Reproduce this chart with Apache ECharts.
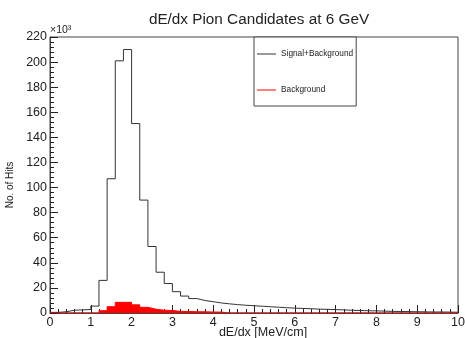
<!DOCTYPE html>
<html>
<head>
<meta charset="utf-8">
<script src="https://cdn.jsdelivr.net/npm/echarts@6/dist/echarts.min.js"></script>
<style>html,body{margin:0;padding:0;background:#fff}#c{width:465px;height:338px}</style>
</head>
<body>
<div id="c"></div>
<script>
// bin left edges (MeV/cm), bin width 0.2, plus final right edge 10
var binEdges = [0,0.2,0.4,0.6,0.8,1.0,1.2,1.4,1.6,1.8,2.0,2.2,2.4,2.6,2.8,3.0,3.2,3.4,3.6,3.8,
  4.0,4.2,4.4,4.6,4.8,5.0,5.2,5.4,5.6,5.8,6.0,6.2,6.4,6.6,6.8,7.0,7.2,7.4,7.6,7.8,
  8.0,8.2,8.4,8.6,8.8,9.0,9.2,9.4,9.6,9.8,10];
// counts in units of 10^3 hits
var signalPlusBackground = [0.5,1.0,2.2,2.5,2.8,5.5,26,107,201,210,151,90,53,32.5,23.5,17,13.5,11.5,10,9,
  8,7.3,6.7,6.2,5.8,5.4,5.0,4.6,4.2,3.9,3.6,3.4,3.1,2.9,2.7,2.5,2.2,2.0,1.8,1.7,
  1.5,1.3,1.2,1.1,1.0,0.9,0.8,0.8,0.7,0.6];
var background = [0,0,0,0,0,0,1.8,5,8.5,8.5,6.5,4.5,3,2.2,2,1.3,1.2,1.0,0.9,0.8,
  0.7,0,0,0,0,0,0,0,0,0,0,0,0,0,0,0,0,0,0,0,
  0,0,0,0,0,0,0,0,0,0];
var xTicks = [0,1,2,3,4,5,6,7,8,9,10];
var yTicks = [0,20,40,60,80,100,120,140,160,180,200,220];

function histData(vals){
  var d = [];
  for (var i = 0; i < vals.length; i++) d.push([binEdges[i], vals[i]]);
  d.push([binEdges[vals.length], vals[vals.length-1]]);
  return d;
}

var FONT = 'Liberation Sans';
var chart = echarts.init(document.getElementById('c'), null, {renderer:'canvas'});
chart.setOption({
  animation: false,
  backgroundColor: '#fff',
  textStyle: {fontFamily: FONT},
  title: {
    text: 'dE/dx Pion Candidates at 6 GeV',
    left: 254, top: 7, textAlign: 'center',
    textStyle: {fontFamily: FONT, fontSize: 15.3, fontWeight: 'normal', color: '#222'}
  },
  grid: {left: 50, right: 7, top: 37, bottom: 25, show: true, borderColor: '#444', borderWidth: 1,
    backgroundColor: 'transparent', containLabel: false, outerBoundsMode: 'none'},
  legend: {
    orient: 'vertical', left: 254, top: 37,
    data: ['Signal+Background', 'Background'],
    icon: 'rect', itemWidth: 19, itemHeight: 1, itemGap: 24,
    padding: [11, 3, 10, 3],
    borderColor: '#444', borderWidth: 1, backgroundColor: '#fff',
    textStyle: {fontFamily: FONT, fontSize: 8.3, color: '#222', lineHeight: 12}
  },
  xAxis: {
    type: 'value', min: xTicks[0], max: xTicks[xTicks.length-1], interval: 1,
    name: 'dE/dx [MeV/cm]', nameLocation: 'middle', nameGap: 13, nameMoveOverlap: false,
    nameTextStyle: {fontFamily: FONT, fontSize: 12.5, color: '#222', verticalAlign: 'top', padding: [0,0,0,18]},
    axisLine: {show: true, lineStyle: {color: '#444', width: 1}},
    axisTick: {show: true, inside: true, length: 8, lineStyle: {color: '#222'}},
    minorTick: {show: true, splitNumber: 5, length: 4, lineStyle: {color: '#222'}},
    axisLabel: {fontFamily: FONT, fontSize: 12.5, color: '#222', margin: 3},
    splitLine: {show: false}
  },
  yAxis: {
    type: 'value', min: yTicks[0], max: yTicks[yTicks.length-1], interval: 20,
    name: 'No. of Hits', nameLocation: 'middle', nameGap: 35, nameRotate: 90, nameMoveOverlap: false,
    nameTextStyle: {fontFamily: FONT, fontSize: 10, color: '#222', padding: [0, 20, 0, 0]},
    axisLine: {show: true, lineStyle: {color: '#444', width: 1}},
    axisTick: {show: true, inside: true, length: 8, lineStyle: {color: '#222'}},
    minorTick: {show: true, splitNumber: 5, length: 4, lineStyle: {color: '#222'}},
    axisLabel: {fontFamily: FONT, fontSize: 12.5, color: '#222', margin: 3},
    splitLine: {show: false}
  },
  graphic: [{
    type: 'text', left: 50, top: 25,
    style: {text: '×10³', fontFamily: FONT, fontSize: 10.5, fill: '#222'}
  }],
  series: [{
    name: 'Signal+Background', type: 'line', step: 'end', showSymbol: false, symbol: 'none',
    data: histData(signalPlusBackground),
    lineStyle: {color: '#333', width: 1}, itemStyle: {color: '#333'}
  }, {
    name: 'Background', type: 'line', step: 'end', showSymbol: false, symbol: 'none',
    data: histData(background),
    lineStyle: {color: '#ff0000', width: 1}, itemStyle: {color: '#ff0000'},
    areaStyle: {color: '#ff0000', opacity: 1}
  }]
});
</script>
</body>
</html>
